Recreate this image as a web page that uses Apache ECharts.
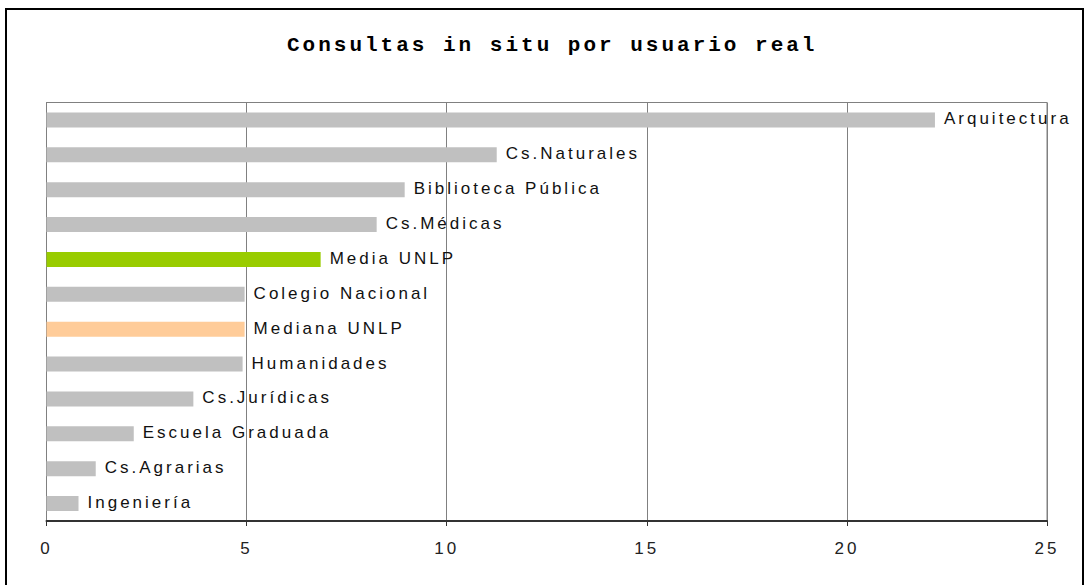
<!DOCTYPE html>
<html>
<head>
<meta charset="utf-8">
<script src="https://cdn.jsdelivr.net/npm/echarts@6/dist/echarts.min.js"></script>
<style>
  html, body { margin: 0; padding: 0; background: #fff; }
  #chart { width: 1085px; height: 585px; }
  /* the original export draws its text widely spaced */
  #chart text { letter-spacing: 3px; }
</style>
</head>
<body>
<div id="chart"></div>
<script>
const categories = [
  'Arquitectura',
  'Cs.Naturales',
  'Biblioteca Pública',
  'Cs.Médicas',
  'Media UNLP',
  'Colegio Nacional',
  'Mediana UNLP',
  'Humanidades',
  'Cs.Jurídicas',
  'Escuela Graduada',
  'Cs.Agrarias',
  'Ingeniería'
]
const values = [22.2, 11.25, 8.95, 8.25, 6.85, 4.95, 4.95, 4.9, 3.67, 2.18, 1.23, 0.8]
const xTicks = [0, 5, 10, 15, 20, 25]

function barColor(name) {
  if (name === 'Media UNLP') return '#99cc00'
  if (name === 'Mediana UNLP') return '#ffcc99'
  return '#c0c0c0'
}

const myChart = echarts.init(document.getElementById('chart'), null, { renderer: 'svg' })

const option = {
  animation: false,
  backgroundColor: '#fff',
  title: {
    text: 'Consultas in situ por usuario real',
    left: 287,
    top: 35,
    padding: 0,
    textStyle: {
      fontFamily: 'Liberation Mono',
      fontWeight: 'bold',
      fontSize: 21,
      color: '#000'
    }
  },
  graphic: [
    {
      type: 'rect',
      shape: { x: 6, y: 9, width: 1077, height: 580 },
      style: { fill: 'none', stroke: '#000', lineWidth: 2 },
      silent: true
    }
  ],
  grid: {
    left: 46.5,
    top: 102.5,
    right: 38,
    bottom: 64,
    show: true,
    borderColor: '#808080',
    borderWidth: 1
  },
  xAxis: {
    type: 'value',
    min: xTicks[0],
    max: xTicks[xTicks.length - 1],
    interval: 5,
    axisLine: { show: true, lineStyle: { color: '#333', width: 2 } },
    axisTick: { show: true, length: 5, lineStyle: { color: '#333' } },
    splitLine: { show: true, lineStyle: { color: '#808080', width: 1 } },
    axisLabel: {
      margin: 19,
      fontFamily: 'Liberation Sans',
      fontSize: 17,
      color: '#222'
    }
  },
  yAxis: {
    type: 'category',
    data: categories,
    inverse: true,
    axisLine: { show: true, lineStyle: { color: '#808080' } },
    axisTick: { show: false },
    axisLabel: { show: false },
    splitLine: { show: false }
  },
  series: [
    {
      type: 'bar',
      barWidth: 15,
      data: categories.map(function (name, i) {
        return {
          value: values[i],
          itemStyle: { color: barColor(name) }
        }
      }),
      label: {
        show: true,
        position: 'right',
        distance: 9,
        offset: [0, -1],
        fontFamily: 'Liberation Sans',
        fontSize: 17,
        color: '#111',
        formatter: function (p) {
          return p.name
        }
      }
    }
  ]
}

myChart.setOption(option)
</script>
</body>
</html>
